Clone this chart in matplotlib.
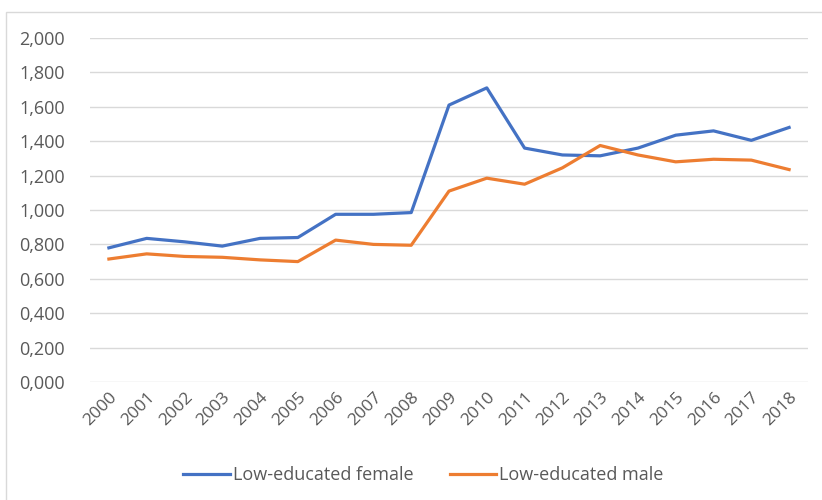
import matplotlib.pyplot as plt
from matplotlib.patches import Rectangle
from matplotlib.ticker import FuncFormatter

years = [str(y) for y in range(2000, 2019)]
female = [0.78, 0.835, 0.815, 0.79, 0.835, 0.84, 0.975, 0.975, 0.985, 1.61, 1.71,
          1.36, 1.32, 1.315, 1.36, 1.435, 1.46, 1.405, 1.48]
male = [0.715, 0.745, 0.73, 0.725, 0.71, 0.70, 0.825, 0.80, 0.795, 1.11, 1.185,
        1.15, 1.245, 1.375, 1.32, 1.28, 1.295, 1.29, 1.235]

plt.rcParams['font.family'] = ['Open Sans', 'DejaVu Sans']
txt = '#595959'

fig = plt.figure(figsize=(8.22, 5), dpi=100)
# outer chart frame
fig.patches.append(Rectangle((6 / 822, -0.1), 1.2, 1.1 - 12 / 500, transform=fig.transFigure,
                             fill=False, edgecolor='#D9D9D9', lw=1))
ax = fig.add_axes([90 / 822, 1 - 382 / 500, 718 / 822, 344 / 500])

x = range(len(years))
ax.plot(x, female, color='#4472C4', lw=2.3, label='Low-educated female')
ax.plot(x, male, color='#ED7D31', lw=2.3, label='Low-educated male')

ax.set_xlim(-0.5, len(years) - 0.5)
ax.set_ylim(0, 2.0)
ax.set_yticks([i * 0.2 for i in range(11)])
ax.yaxis.set_major_formatter(FuncFormatter(lambda v, p: f'{v:.3f}'.replace('.', ',')))
ax.set_xticks(list(x))
ax.set_xticklabels(years, rotation=45, ha='right', rotation_mode='anchor')
ax.grid(axis='y', color='#D9D9D9', lw=1)
ax.set_axisbelow(True)
for s in ax.spines.values():
    s.set_visible(False)
ax.tick_params(length=0, colors=txt)
ax.tick_params(axis='y', pad=18, labelsize=13)
ax.tick_params(axis='x', pad=5, labelsize=12.5)

ax.legend(loc='center', bbox_to_anchor=(0.515, 1 - 475 / 500), bbox_transform=fig.transFigure,
          ncol=2, frameon=False, fontsize=13, labelcolor=txt, handlelength=2.6,
          columnspacing=2.0, handletextpad=0.15)

fig.savefig('out.png', dpi=100)
